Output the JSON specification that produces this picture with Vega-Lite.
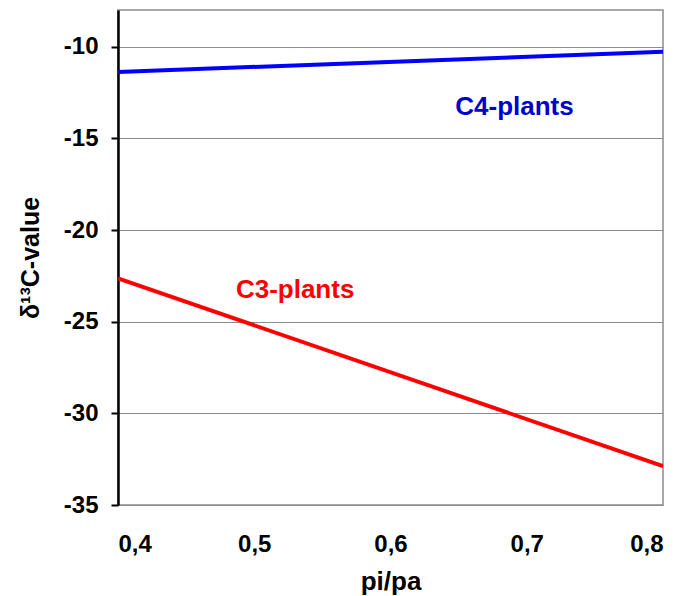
{
  "$schema": "https://vega.github.io/schema/vega-lite/v6.json",
  "width": 545,
  "height": 495,
  "autosize": {"type": "none"},
  "padding": {"left": 118, "top": 10, "right": 22, "bottom": 91},
  "background": "white",
  "config": {
    "view": {"stroke": "#8c8c8c", "strokeWidth": 1.5},
    "font": "Liberation Sans"
  },
  "datasets": {
    "lines": [
      {"pipa": 0.4, "d13c": -11.38, "group": "C4-plants"},
      {"pipa": 0.8, "d13c": -10.28, "group": "C4-plants"},
      {"pipa": 0.4, "d13c": -22.64, "group": "C3-plants"},
      {"pipa": 0.8, "d13c": -32.88, "group": "C3-plants"}
    ],
    "labels": [
      {"pipa": 0.691, "d13c": -13.3, "group": "C4-plants"},
      {"pipa": 0.53, "d13c": -23.25, "group": "C3-plants"}
    ]
  },
  "layer": [
    {
      "data": {"name": "lines"},
      "mark": {"type": "line", "strokeWidth": 4, "clip": true},
      "encoding": {
        "x": {
          "field": "pipa", "type": "quantitative",
          "scale": {"domain": [0.4, 0.8], "nice": false, "zero": false},
          "axis": {
            "title": "pi/pa", "titleFont": "Liberation Sans", "titleFontSize": 26, "titleFontWeight": "bold", "titleColor": "black", "titlePadding": 12,
            "values": [0.4, 0.5, 0.6, 0.7, 0.8],
            "labelExpr": "replace(format(datum.value, '.1f'), '.', ',')",
            "labelFont": "Liberation Sans", "labelFontSize": 24, "labelFontWeight": "bold", "labelColor": "black",
            "labelPadding": 27, "ticks": false, "tickSize": 0,
            "grid": false, "domain": false
          }
        },
        "y": {
          "field": "d13c", "type": "quantitative",
          "scale": {"domain": [-35, -8], "nice": false, "zero": false},
          "axis": {
            "title": "δ¹³C-value", "titleFont": "Liberation Sans", "titleFontSize": 25, "titleFontWeight": "bold", "titleColor": "black", "titlePadding": 20,
            "values": [-35, -30, -25, -20, -15, -10],
            "labelExpr": "'' + datum.value",
            "labelFont": "Liberation Sans", "labelFontSize": 24, "labelFontWeight": "bold", "labelColor": "black",
            "labelPadding": 13, "tickSize": 7, "tickWidth": 2, "tickColor": "black",
            "domainColor": "black", "domainWidth": 2.5,
            "grid": true, "gridColor": "#8c8c8c", "gridWidth": 1
          }
        },
        "color": {
          "field": "group", "type": "nominal",
          "scale": {"domain": ["C4-plants", "C3-plants"], "range": ["#0000ff", "#ff0000"]},
          "legend": null
        },
        "detail": {"field": "group"}
      }
    },
    {
      "data": {"name": "labels"},
      "mark": {"type": "text", "fontSize": 26, "fontWeight": "bold", "font": "Liberation Sans", "align": "center", "baseline": "middle"},
      "encoding": {
        "x": {"field": "pipa", "type": "quantitative"},
        "y": {"field": "d13c", "type": "quantitative"},
        "text": {"field": "group"},
        "color": {
          "field": "group", "type": "nominal",
          "scale": {"domain": ["C4-plants", "C3-plants"], "range": ["#0000cc", "#ff0000"]},
          "legend": null
        }
      }
    },
    {
      "mark": {"type": "rule", "color": "black", "strokeWidth": 2.5},
      "encoding": {"y": {"datum": -8}}
    }
  ],
  "resolve": {"scale": {"color": "independent"}}
}
